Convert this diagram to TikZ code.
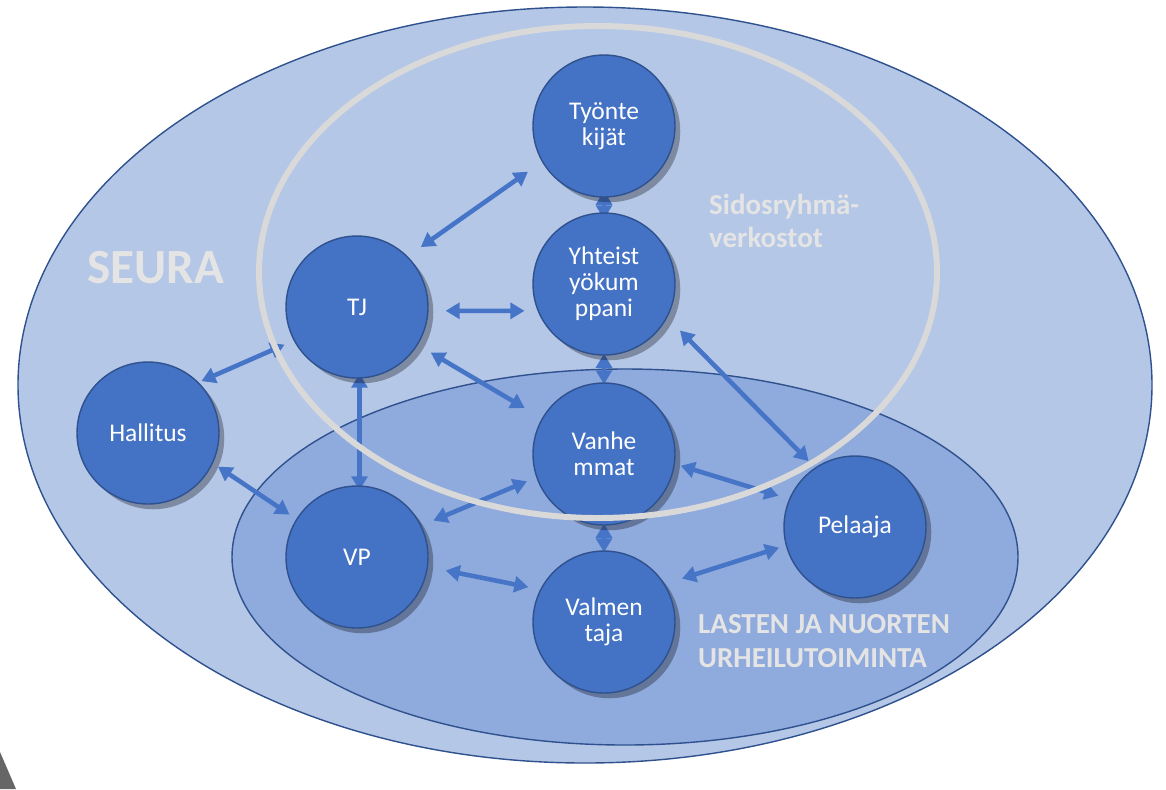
\documentclass[tikz,border=0pt]{standalone}
\usepackage{fontspec}
\setmainfont{Carlito}
\usepackage{tikz}
\usetikzlibrary{arrows.meta,shadows,backgrounds}

\definecolor{outerfill}{HTML}{B4C7E7}
\definecolor{innerfill}{HTML}{8FAADC}
\definecolor{nodeblue}{HTML}{4472C4}
\definecolor{edgeblue}{HTML}{2F528F}
\definecolor{arrowblue}{HTML}{4675C8}
\definecolor{ringgray}{HTML}{D9D9D9}
\definecolor{labelgray}{HTML}{E4E4E4}

\begin{document}
\begin{tikzpicture}[
		x=0.02cm, y=-0.02cm,
		>={Triangle[length=8pt,width=9pt]},
		font=\fontsize{14.5}{14.8}\selectfont,
		actor/.style={
			circle,
			draw=edgeblue,
			line width=0.8pt,
			fill=nodeblue,
			text=white,
			align=center,
			minimum size=2.84cm,
			inner sep=0pt,
			drop shadow={shadow xshift=3pt, shadow yshift=-3pt, opacity=0.3, fill=black}
		},
		conn/.style={
			<->,
			draw=arrowblue,
			line width=2.6pt
		},
		zone/.style={
			draw=edgeblue,
			line width=0.8pt
		},
		bandlabel/.style={
			text=labelgray,
			font=\bfseries\fontsize{16.5}{19}\selectfont,
			align=left,
			anchor=west
		}
		]
		\useasboundingbox (0,0) rectangle (1166,789);
		
		% the two areas first
		\begin{scope}[on background layer]
		\fill [white] (0,0) rectangle (1166,789);
		\draw [zone, fill=outerfill] (585,385) ellipse [x radius=567, y radius=378];
		\draw [zone, fill=innerfill] (625,557) ellipse [x radius=393, y radius=188];
		\end{scope}
		
		\node [text=labelgray, font=\bfseries\fontsize{28}{30}\selectfont] (seura) at (156,268) {SEURA};
		\node [bandlabel] (sidos) at (703,221) {Sidosryhmä-\\verkostot};
		\node [bandlabel] (lasten) at (692,641) {LASTEN JA NUORTEN\\URHEILUTOIMINTA};
		
		% then the actors
		\node [actor] (tyo) at (604,126) {Työnte\\kijät};
		\node [actor] (yht) at (604,284) {Yhteist\\yökum\\ppani};
		\node [actor] (tj) at (357,307) {TJ};
		\node [actor] (hal) at (148,433) {Hallitus};
		\node [actor] (van) at (604,454) {Vanhe\\mmat};
		\node [actor] (vp) at (357,557) {VP};
		\node [actor] (val) at (604,622) {Valmen\\taja};
		\node [actor] (pel) at (855,527) {Pelaaja};
		
		% arrows go below the circles
		\begin{scope}[on background layer]
		\draw [conn, shorten <=0.32cm, shorten >=0.34cm] (tj.45) -- (tyo.210);
		\draw [conn, shorten <=0.34cm, shorten >=0.26cm] (tj.-3) -- (yht.202);
		\draw [conn, shorten <=0.2cm, shorten >=0.06cm] (tj.208) -- (hal.45);
		\draw [conn, shorten <=0.3cm, shorten >=0.4cm] (tj.-32) -- (van.150);
		\draw [conn, shorten <=-0.1cm, shorten >=-0.1cm] (tj.-88) -- (vp.88);
		\draw [conn, shorten <=-0.14cm, shorten >=-0.14cm] (tyo.south) -- (yht.north);
		\draw [conn, shorten <=-0.04cm, shorten >=-0.04cm] (yht.south) -- (van.north);
		\draw [conn, shorten <=0.36cm, shorten >=0.18cm] (yht.-28) -- (pel.124);
		\draw [conn, shorten <=0.12cm, shorten >=0.16cm] (hal.-25) -- (vp.148);
		\draw [conn, shorten <=0.2cm, shorten >=0.26cm] (van.199) -- (vp.26);
		\draw [conn, shorten <=0.12cm, shorten >=0.22cm] (van.-8) -- (pel.157);
		\draw [conn, shorten <=-0.04cm, shorten >=-0.04cm] (van.south) -- (val.north);
		\draw [conn, shorten <=0.36cm, shorten >=0.24cm] (vp.-8) -- (val.153);
		\draw [conn, shorten <=0.36cm, shorten >=0.14cm] (val.32) -- (pel.195);
		\end{scope}
		
		% the ring lies on top of everything
		\draw [ringgray, line width=3.4pt] (598,272) ellipse [x radius=339, y radius=246];
		
		\fill [black!60] (0,752) -- (16,789) -- (0,789) -- cycle;
		
\end{tikzpicture}
\end{document}
